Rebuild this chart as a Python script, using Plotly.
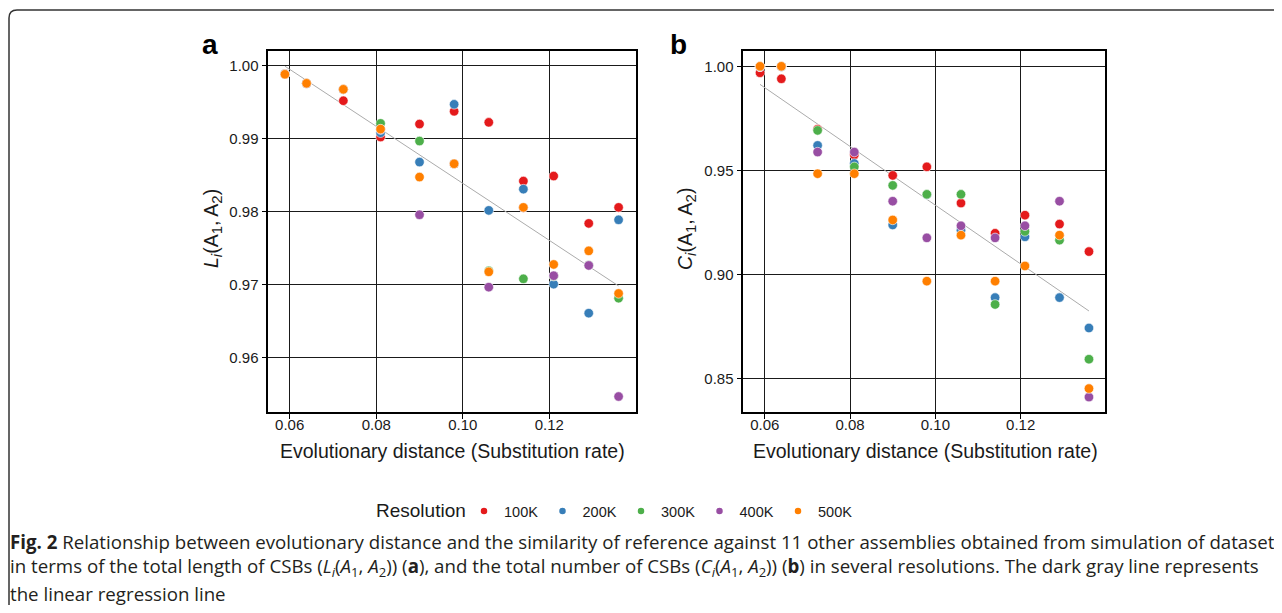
import numpy as np
import plotly.graph_objects as go

# page body has an 8px margin; the figure is sized to fit the 1282x613 window
OFF = 8
W, H = 1282 - 2 * OFF, 613 - 2 * OFF

# ---------------- data ----------------
distance = [0.0589, 0.0639, 0.0724, 0.0810, 0.0900, 0.0980, 0.1060, 0.1140, 0.1210, 0.1291, 0.1360]
resolutions = ["100K", "200K", "300K", "400K", "500K"]
colors = ["#e41a1c", "#377eb8", "#4daf4a", "#984ea3", "#ff7f00"]

# Panel a: L_i(A1, A2)
a_100K = [0.9988, 0.9975, 0.99515, 0.99018, 0.99196, 0.99370, 0.99219, 0.98415, 0.98484, 0.97836, 0.98055]
a_200K = [0.9988, 0.9975, 0.9967, 0.99077, 0.98675, 0.99466, 0.98014, 0.98305, 0.97004, 0.96607, 0.97885]
a_300K = [0.9988, 0.9975, 0.9967, 0.99205, 0.98963, 0.9865, 0.97186, 0.97077, 0.97114, 0.97264, 0.96812]
a_400K = [0.9988, 0.9975, 0.9967, 0.9912, 0.97954, 0.9865, 0.96963, 0.9805, 0.9712, 0.9726, 0.95466]
a_500K = [0.99877, 0.99753, 0.99671, 0.99127, 0.98470, 0.98652, 0.97173, 0.98055, 0.97274, 0.97460, 0.96877]

# Panel b: C_i(A1, A2)
b_100K = [0.9971, 0.9942, 0.9700, 0.9577, 0.9478, 0.9519, 0.9345, 0.9200, 0.9287, 0.9244, 0.9112]
b_200K = [1.0000, 1.0000, 0.9622, 0.9535, 0.9240, 0.9385, 0.9215, 0.8891, 0.9183, 0.8891, 0.8745]
b_300K = [1.0000, 1.0000, 0.9694, 0.9519, 0.9430, 0.9387, 0.9387, 0.8858, 0.9209, 0.9167, 0.8595]
b_400K = [1.0000, 1.0000, 0.9590, 0.9590, 0.9354, 0.9178, 0.9236, 0.9178, 0.9236, 0.9354, 0.8413]
b_500K = [1.0002, 1.0002, 0.9486, 0.9486, 0.9264, 0.8970, 0.9191, 0.8970, 0.9043, 0.9191, 0.8454]

a_series = [a_100K, a_200K, a_300K, a_400K, a_500K]
b_series = [b_100K, b_200K, b_300K, b_400K, b_500K]

x_ticks = [0.06, 0.08, 0.10, 0.12]
a_yticks = [0.96, 0.97, 0.98, 0.99, 1.00]
b_yticks = [0.85, 0.90, 0.95, 1.00]

# ---------------- figure ----------------
fig = go.Figure()

def px(x):
    return (x - OFF) / W

def py(y):
    return 1 - (y - OFF) / H

FONT = "Liberation Sans, Arial, sans-serif"

for series, xa, ya in [(a_series, "x", "y"), (b_series, "x2", "y2")]:
    # regression line
    xs = np.repeat(distance, len(series))
    ys = np.array(series).T.flatten()
    k, c = np.polyfit(xs, ys, 1)
    xl = np.array([min(distance), max(distance)])
    fig.add_trace(go.Scatter(x=xl, y=k * xl + c, mode="lines",
                             line=dict(color="#ababab", width=1),
                             xaxis=xa, yaxis=ya, showlegend=False, hoverinfo="skip"))
    for vals, col, name in zip(series, colors, resolutions):
        fig.add_trace(go.Scatter(x=distance, y=vals, mode="markers", name=name,
                                 marker=dict(color=col, size=9.5,
                                             line=dict(color="white", width=0.6)),
                                 xaxis=xa, yaxis=ya, showlegend=False))

# legend-only traces (small dots)
for col, name in zip(colors, resolutions):
    fig.add_trace(go.Scatter(x=[None], y=[None], mode="markers", name=name,
                             marker=dict(color=col, size=6.5),
                             xaxis="x", yaxis="y", showlegend=True))

axis_common = dict(showline=True, linecolor="black", linewidth=1.6, mirror=True,
                   showgrid=True, gridcolor="#1a1a1a", gridwidth=1.2,
                   ticks="outside", ticklen=5, tickwidth=1, tickcolor="black",
                   tickfont=dict(family=FONT, size=15, color="#1a1a1a"),
                   zeroline=False, automargin=False)

ya_dom = [py(412.3), py(50.7)]
fig.update_layout(
    width=W, height=H,
    margin=dict(l=0, r=0, t=0, b=0),
    paper_bgcolor="white", plot_bgcolor="white",
    xaxis=dict(domain=[px(268.3), px(635.7)], range=[0.05506, 0.13995],
               tickvals=x_ticks, tickformat=".2f", anchor="y", ticklabelstandoff=-7,
               **axis_common),
    yaxis=dict(domain=ya_dom, range=[0.9525, 1.0020],
               tickvals=a_yticks, tickformat=".2f", anchor="x", **axis_common),
    xaxis2=dict(domain=[px(743.3), px(1105.3)], range=[0.05498, 0.13983],
                tickvals=x_ticks, tickformat=".2f", anchor="y2", ticklabelstandoff=-7,
                **axis_common),
    yaxis2=dict(domain=ya_dom, range=[0.834, 1.0077],
                tickvals=b_yticks, tickformat=".2f", anchor="x2", **axis_common),
    showlegend=True,
    legend=dict(orientation="h", x=px(464), y=py(511), xanchor="left", yanchor="middle",
                font=dict(family=FONT, size=14.5, color="#1a1a1a"),
                bgcolor="rgba(0,0,0,0)", itemwidth=30,
                entrywidth=33.5, entrywidthmode="pixels"),
)

title_font = dict(family=FONT, size=19.5, color="#1a1a1a")
SUB = '<sub><span style="font-size:15px">{}</span></sub>'
def ylabel(letter):
    return (f"<i>{letter}</i>" + SUB.format("<i>i</i>") + "(A" + SUB.format("1")
            + ",&#8201;A" + SUB.format("2") + ")")

ann = []
ann.append(dict(text="<b>a</b>", x=px(210), y=py(45), font=dict(family=FONT, size=28, color="black")))
ann.append(dict(text="<b>b</b>", x=px(678), y=py(45), font=dict(family=FONT, size=28, color="black")))
ann.append(dict(text=ylabel("L"), x=px(212), y=py(229), textangle=-90, font=title_font))
ann.append(dict(text=ylabel("C"), x=px(686), y=py(229), textangle=-90, font=title_font))
ann.append(dict(text="Evolutionary distance (Substitution rate)", x=px(452), y=py(451), font=title_font))
ann.append(dict(text="Evolutionary distance (Substitution rate)", x=px(925), y=py(451), font=title_font))
ann.append(dict(text="Resolution", x=px(374), y=py(511), xanchor="left",
                font=dict(family=FONT, size=19, color="#1a1a1a")))

cap_font = dict(family="Open Sans, sans-serif", size=18.7, color="#231f20")
captions = [
    "<b>Fig. 2</b> Relationship between evolutionary distance and the similarity of reference against 11 other assemblies obtained from simulation of dataset",
    "in terms of the total length of CSBs (<i>L</i><sub><i>i</i></sub>(<i>A</i><sub>1</sub>, <i>A</i><sub>2</sub>)) (<b>a</b>), and the total number of CSBs (<i>C</i><sub><i>i</i></sub>(<i>A</i><sub>1</sub>, <i>A</i><sub>2</sub>)) (<b>b</b>) in several resolutions. The dark gray line represents",
    "the linear regression line",
]
for text, yy in zip(captions, [541, 567, 593]):
    ann.append(dict(text=text, x=px(8), y=py(yy), xanchor="left", font=cap_font))

for a in ann:
    a.setdefault("xanchor", "center")
    a.update(xref="paper", yref="paper", yanchor="middle", showarrow=False)
fig.update_layout(annotations=ann)

# rounded frame
frame = (f"M {px(1300)} {py(10)} L {px(17)} {py(10)} Q {px(9)} {py(10)} {px(9)} {py(18)} "
         f"L {px(9)} {py(620)}")
fig.add_shape(type="path", path=frame, xref="paper", yref="paper",
              line=dict(color="#333333", width=1.5))

fig.write_html("out.html")
